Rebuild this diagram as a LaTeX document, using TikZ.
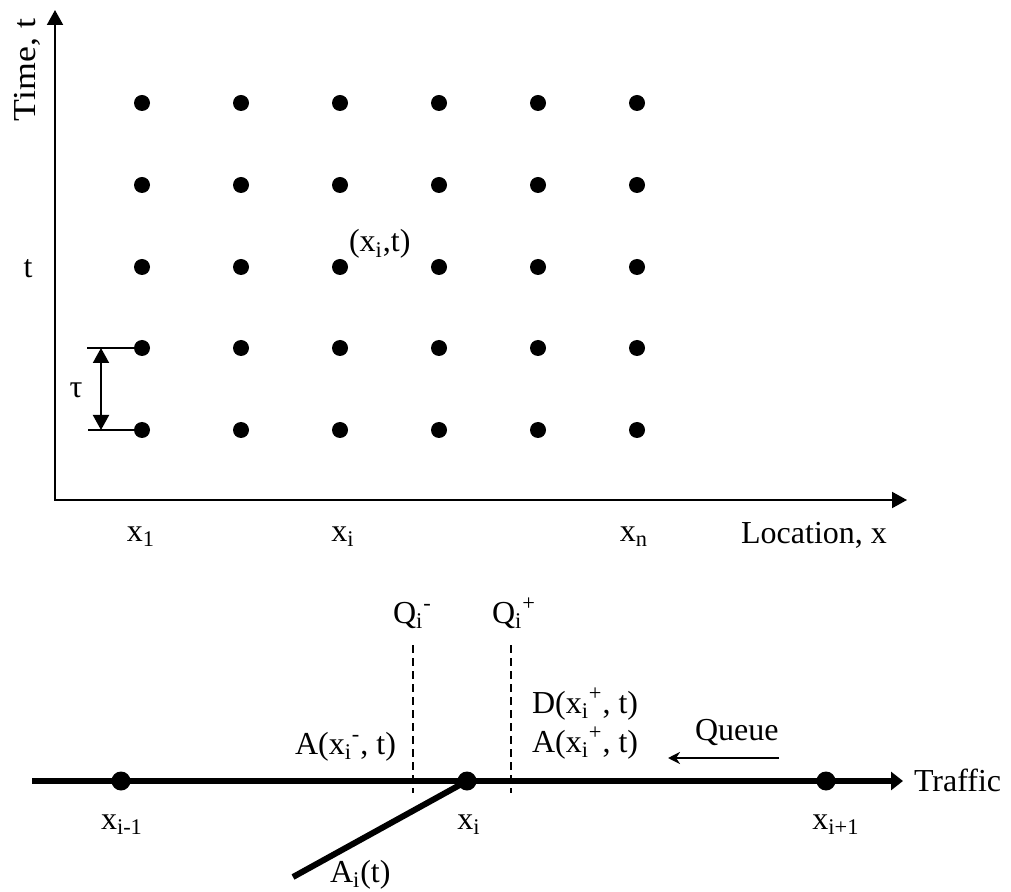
\documentclass[tikz,border=0pt]{standalone}
\usepackage{fontspec}
\setmainfont{Liberation Serif}
\usetikzlibrary{arrows.meta}
\begin{document}
\begin{tikzpicture}[x=0.5pt,y=-0.5pt,
  lbl/.style={font=\fontsize{16}{19}\selectfont, inner sep=0pt, outer sep=0pt},
  gdot/.style={circle, fill=black, inner sep=0pt, minimum size=8pt},
  rdot/.style={circle, fill=black, inner sep=0pt, minimum size=9.5pt},
  axisline/.style={line width=1pt, {Triangle[length=7.5pt,width=8pt]}-{Triangle[length=7.5pt,width=8pt]}},
  tickline/.style={line width=1pt},
  tauarrow/.style={line width=1pt, {Triangle[length=7.5pt,width=8pt]}-{Triangle[length=7.5pt,width=8pt]}},
  road/.style={line width=3pt},
  roadarrow/.style={line width=3pt, -{Triangle[length=6pt,width=9pt]}},
  qline/.style={line width=0.9pt, dash pattern=on 4pt off 2.5pt},
  queuearrow/.style={line width=1pt, -{Stealth[length=6pt,width=6pt]}},
]
\useasboundingbox (0,0) rectangle (1011,892);

% grid of points
\foreach \c/\x in {1/142,2/241,3/340,4/439,5/538,6/637}{
  \foreach \r/\y in {1/103,2/185,3/267,4/348,5/430}{
    \node[gdot] (d\c\r) at (\x,\y) {};
  }
}

% axes
\coordinate (ytip) at (55,10);
\coordinate (O) at (55,500);
\coordinate (xtip) at (907,500);
\draw[axisline] (ytip) -- (O) -- (xtip);

\node[lbl, rotate=90, anchor=base] (tlab) at (35,70) {\scalebox{1.12}[1]{Time, t}};
\node[lbl, anchor=base] (tt) at (28,278) {t};
\node[lbl, anchor=base west] (xit) at (349,252) {(x\textsubscript{i},t)};

% tau marker
\coordinate (tk1) at (87,348);
\coordinate (tk2) at (88,430);
\draw[tickline] (tk1) -- (d14.center);
\draw[tickline] (tk2) -- (d15.center);
\coordinate (ta) at (101,348);
\coordinate (tb) at (101,430);
\draw[tauarrow] (ta) -- (tb);
\node[lbl, anchor=base] (tau) at (76,398) {τ};

% x labels
\node[lbl, anchor=base] (x1) at (141,541) {x\textsubscript{1}};
\node[lbl, anchor=base] (xi) at (343,541) {x\textsubscript{i}};
\node[lbl, anchor=base] (xn) at (634,541) {x\textsubscript{n}};
\node[lbl, anchor=base] (loc) at (814,543) {Location, x};

% bottom road
\coordinate (rl) at (32,781);
\coordinate (rr) at (903,781);
\coordinate (ai) at (293,877);
\node[rdot] (xa) at (121,781) {};
\node[rdot] (xb) at (467,781) {};
\node[rdot] (xc) at (826,781) {};
\draw[roadarrow] (rl) -- (rr);
\draw[road] (xb.center) -- (ai);
\node[lbl, anchor=base west] (traffic) at (914,791) {Traffic};

% dashed boundaries
\coordinate (q1t) at (413,645);
\coordinate (q1b) at (413,793);
\coordinate (q2t) at (511,645);
\coordinate (q2b) at (511,793);
\draw[qline] (q1t) -- (q1b);
\draw[qline] (q2t) -- (q2b);
\node[lbl, anchor=base west] (qm) at (393,623) {Q\textsubscript{i}\textsuperscript{-}};
\node[lbl, anchor=base west] (qp) at (492,623) {Q\textsubscript{i}\textsuperscript{+}};

\node[lbl, anchor=base west] (am) at (295,754) {A(x\textsubscript{i}\textsuperscript{-}, t)};
\node[lbl, anchor=base west] (dp) at (532,713) {D(x\textsubscript{i}\textsuperscript{+}, t)};
\node[lbl, anchor=base west] (ap) at (532,752) {A(x\textsubscript{i}\textsuperscript{+}, t)};

% queue
\node[lbl, anchor=base west] (queue) at (695,740) {Queue};
\coordinate (qa) at (779,758);
\coordinate (qb) at (668,758);
\draw[queuearrow] (qa) -- (qb);

% node labels
\node[lbl, anchor=base] (lxa) at (122,829) {x\textsubscript{i-1}};
\node[lbl, anchor=base] (lxb) at (469,829) {x\textsubscript{i}};
\node[lbl, anchor=base] (lxc) at (836,829) {x\textsubscript{i+1}};
\node[lbl, anchor=base west] (lai) at (330,882) {A\textsubscript{i}(t)};
\end{tikzpicture}
\end{document}
